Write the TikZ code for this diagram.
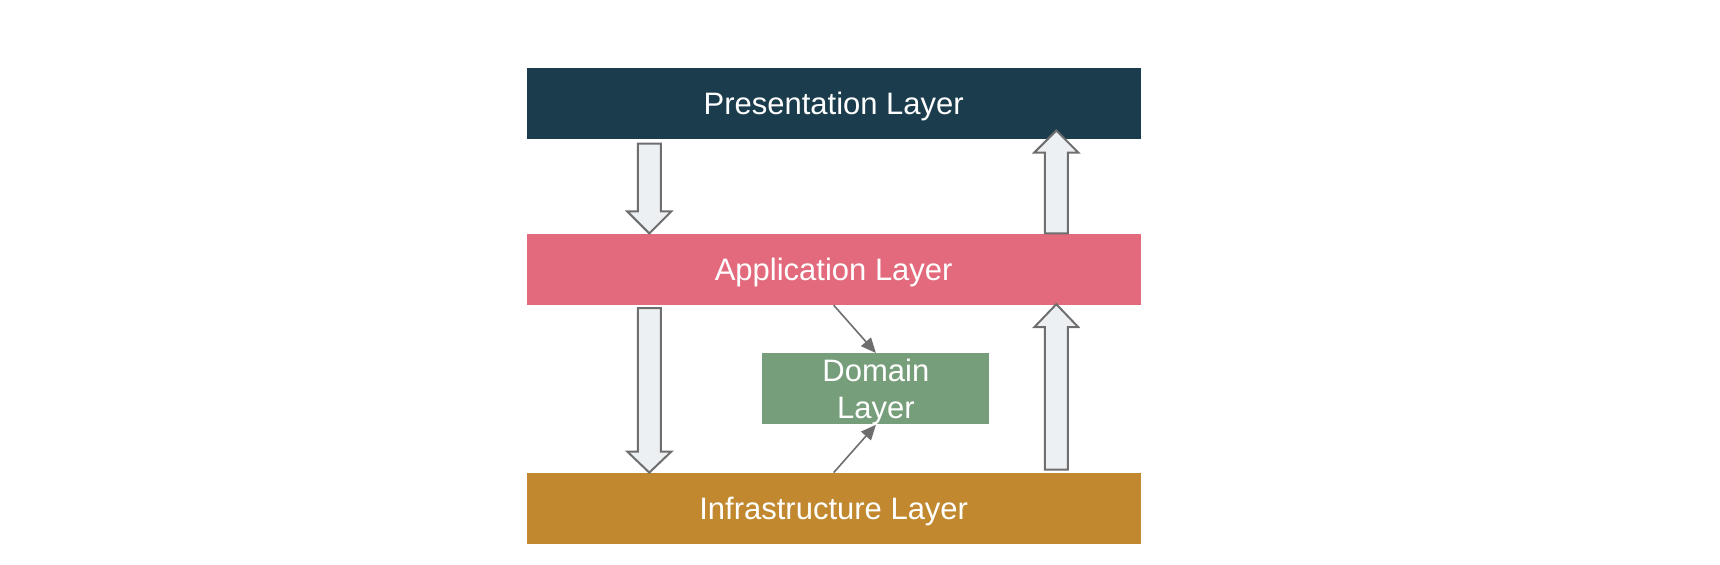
\documentclass[tikz,border=0pt]{standalone}
\usepackage{fontspec}
\setmainfont{Liberation Sans}
\usetikzlibrary{arrows.meta,calc,positioning}
\definecolor{presblue}{HTML}{1A3C4D}
\definecolor{apppink}{HTML}{E36A7C}
\definecolor{domgreen}{HTML}{779E7B}
\definecolor{infraochre}{HTML}{C1882F}
\definecolor{arrowfill}{HTML}{EDF0F3}
\definecolor{arrowline}{HTML}{6E6E6E}

% block arrow: #1 tail, #2 tip, #3 signed head length
\newcommand{\blockarrow}[3]{%
\draw [block] ($(#1)+(-11.5,0)$) -- ($(#2)+(-11.5,#3)$) -- ($(#2)+(-22,#3)$) -- (#2)
  -- ($(#2)+(22,#3)$) -- ($(#2)+(11.5,#3)$) -- ($(#1)+(11.5,0)$) -- cycle;}

\begin{document}
\begin{tikzpicture}
[x=0.5pt,y=-0.5pt,font=\fontsize{15.5}{18.5}\selectfont]
\tikzstyle{layer}=[text=white,inner sep=0pt,text depth=0pt,minimum width=307pt,minimum height=35.5pt]
\tikzstyle{block}=[fill=arrowfill,draw=arrowline,line width=1pt,line join=miter]
\tikzstyle{link}=[draw=arrowline,line width=0.8pt,-{Triangle[length=7.5pt,width=6.5pt]}]

\useasboundingbox (0,0) rectangle (1720,565);

\draw node [layer,fill=presblue] (pres) at (833.7,103.7) {Presentation Layer};
\draw node [layer,fill=apppink] (app) at (833.7,269.3) {Application Layer};
\draw node [layer,fill=infraochre] (infra) at (833.7,508.5) {Infrastructure Layer};
\draw node [layer,fill=domgreen,minimum width=113.5pt,align=center] (dom) at (875.9,388.9) {Domain\\Layer};

\coordinate (t1) at ($(pres.south west)+(123,4)$);
\coordinate (h1) at ($(app.north west)+(123,0)$);
\coordinate (t2) at ($(app.north west)+(530,0)$);
\coordinate (h2) at ($(pres.south west)+(530,-9)$);
\coordinate (t3) at ($(app.south west)+(123,3)$);
\coordinate (h3) at ($(infra.north west)+(123,0)$);
\coordinate (t4) at ($(infra.north west)+(530,-3)$);
\coordinate (h4) at ($(app.south west)+(530,-1)$);

\blockarrow{t1}{h1}{-22}
\blockarrow{t2}{h2}{22}
\blockarrow{t3}{h3}{-21}
\blockarrow{t4}{h4}{23}

\draw [link] (app.south) -- (dom.north);
\draw [link] (infra.north) -- (dom.south);

\end{tikzpicture}
\end{document}
